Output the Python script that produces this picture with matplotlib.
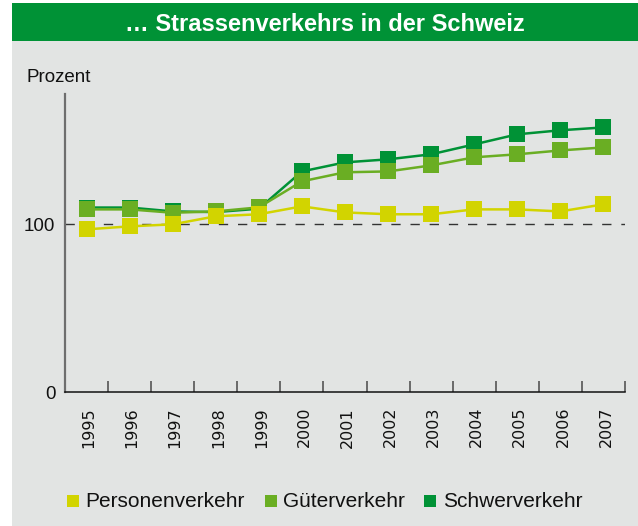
import matplotlib
matplotlib.use("Agg")
import matplotlib.pyplot as plt
from matplotlib import font_manager
from matplotlib.patches import Rectangle
from matplotlib.transforms import ScaledTranslation

years = ["1995", "1996", "1997", "1998", "1999", "2000", "2001",
         "2002", "2003", "2004", "2005", "2006", "2007"]
personen = [97.0, 98.8, 100.0, 104.8, 106.0, 110.7, 107.1,
            106.0, 106.0, 108.9, 108.9, 107.7, 111.9]
gueter = [108.9, 108.9, 106.9, 107.7, 110.1, 125.6, 131.0,
          131.5, 135.1, 139.9, 141.7, 144.0, 145.8]
schwer = [110.0, 110.0, 107.7, 107.3, 109.3, 131.5, 136.9,
          138.7, 141.7, 147.6, 153.6, 156.0, 157.7]
series_names = ["Personenverkehr", "Güterverkehr", "Schwerverkehr"]
series_colors = ["#d2d400", "#6aae23", "#009236"]

W, H = 638, 526
BG = "#e2e4e3"
plt.rcParams["font.family"] = ["Liberation Sans", "DejaVu Sans"]

narrow_ok = any("Narrow" in f.name for f in font_manager.fontManager.ttflist)
year_family = ["Liberation Sans Narrow"] if narrow_ok else ["Liberation Sans"]
year_size = 11.5 if narrow_ok else 9.8


def fx(px):
    return px / W


def fy(py):
    return 1 - py / H


fig = plt.figure(figsize=(W / 100, H / 100), dpi=100, facecolor="white")
# panel background and title bar
fig.patches.append(Rectangle((fx(12), 0), fx(W) - fx(12), fy(3), transform=fig.transFigure,
                             facecolor=BG, edgecolor="none", zorder=-2))
fig.patches.append(Rectangle((fx(12), fy(41)), fx(W) - fx(12), fy(3) - fy(41),
                             transform=fig.transFigure, facecolor="#009236",
                             edgecolor="none", zorder=-1))
fig.text(fx(325), fy(31), "… Strassenverkehrs in der Schweiz", color="white",
         fontsize=17, fontweight="bold", ha="center", va="baseline")
fig.text(fx(26.5), fy(81.7), "Prozent", fontsize=13.5, ha="left", va="baseline",
         color="#111111")

ax = fig.add_axes([fx(65), fy(392.3), fx(625) - fx(65), fy(94) - fy(392.3)])
ax.set_zorder(2)
ax.set_facecolor(BG)
ax.patch.set_alpha(0)

x = list(range(len(years)))
ax.axhline(100, color="#333333", lw=1.0, dashes=(6.7, 7.1), zorder=1)
for vals, col, z in [(schwer, series_colors[2], 2), (gueter, series_colors[1], 3),
                     (personen, series_colors[0], 4)]:
    ax.plot(x, vals, color=col, lw=1.8, marker="s", markersize=11,
            markeredgewidth=0, zorder=z)

ax.set_xlim(-0.5, len(years) - 0.5)
ax.set_ylim(0, 177.6)
ax.set_yticks([0, 100])
ax.set_yticklabels(["0", "100"], fontsize=13.5, color="#111111")
ax.tick_params(axis="y", length=0, pad=7)

ax.set_xticks([i - 0.5 for i in range(len(years) + 1)])
ax.set_xticklabels([])
ax.set_xticks(x, minor=True)
ax.set_xticklabels(years, minor=True, rotation=90, family=year_family,
                   fontsize=year_size, color="#111111", va="top", ha="center")
ax.tick_params(axis="x", which="major", direction="in", length=8, width=1.2,
               color="#555555")
ax.tick_params(axis="x", which="minor", length=0, pad=10.5)
shift = ScaledTranslation(2.5 / 100, 0, fig.dpi_scale_trans)
for lbl in ax.xaxis.get_minorticklabels():
    lbl.set_transform(lbl.get_transform() + shift)

for side in ["top", "right"]:
    ax.spines[side].set_visible(False)
ax.spines["left"].set_color("#6e6e6e")
ax.spines["left"].set_linewidth(1.6)
ax.spines["bottom"].set_color("#111111")
ax.spines["bottom"].set_linewidth(1.1)

# legend
legend_pos = [(66.5, 85), (265, 283), (424, 442.7)]
for name, col, (sq, tx) in zip(series_names, series_colors, legend_pos):
    fig.patches.append(Rectangle((fx(sq), fy(507)), fx(12), 12 / H,
                                 transform=fig.transFigure, facecolor=col,
                                 edgecolor="none", zorder=2))
    fig.text(fx(tx), fy(506.7), name, fontsize=15, ha="left", va="baseline",
             color="#111111")

fig.savefig("out.png", dpi=100, facecolor="white")
